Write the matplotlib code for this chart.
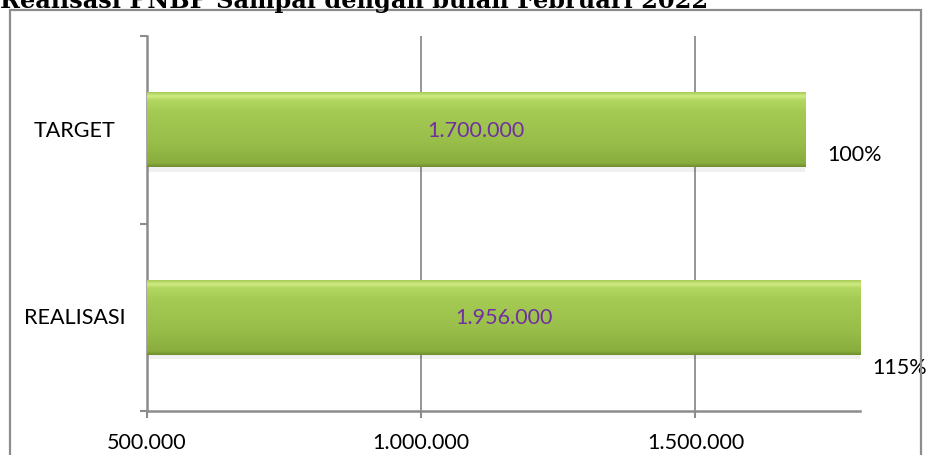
import matplotlib

matplotlib.use('Agg')

import numpy as np
import matplotlib.pyplot as plt
import matplotlib.ticker as mticker
from matplotlib.colors import to_rgb
from matplotlib.patches import Rectangle

title = 'Realisasi PNBP Sampai dengan bulan Februari 2022'
categories = ['REALISASI', 'TARGET']
values = [1956000, 1700000]
percents = ['115%', '100%']
x_ticks = [500000, 1000000, 1500000]
x_min, x_max = 500000, 1800000


def dotted(v, pos=None):
    return f'{int(v):,}'.replace(',', '.')


plt.rcParams['font.family'] = ['Lato', 'DejaVu Sans']

fig = plt.figure(figsize=(9.3, 4.56), dpi=100)
ax = fig.add_axes([147 / 930, 1 - 412 / 456, 713 / 930, 375 / 456])

# outer chart border
fig.patches.append(Rectangle((10 / 930, -0.05), 911 / 930, 1.05 - 11 / 456,
                             transform=fig.transFigure, fill=False,
                             edgecolor='#8c8c8c', lw=1.6))

fig.text(0.0, 1 - 8 / 456, title, family='DejaVu Serif', weight='bold',
         fontsize=17.3, va='baseline', ha='left')

y = np.arange(len(categories))
bar_h = 0.4

# soft shadow under bars
for yi, v in zip(y, values):
    ax.barh(yi - 0.025, v, height=bar_h, color='#000000', alpha=0.06, zorder=2)

bars = ax.barh(y, values, height=bar_h, color='#9fc54e', zorder=3)

# vertical gradient (bottom -> top) to imitate the bevelled Excel bar
stops = [(0.0, '#708f30'), (0.05, '#8aad3e'), (0.35, '#99bf4a'),
         (0.75, '#a5cb55'), (0.9, '#b3d862'), (0.95, '#cfec84'), (1.0, '#a8cc55')]
pos = np.linspace(0, 1, 120)
grad = np.zeros((120, 1, 3))
for c in range(3):
    grad[:, 0, c] = np.interp(pos, [s[0] for s in stops],
                              [to_rgb(s[1])[c] for s in stops])
for b in bars:
    x0, y0 = b.get_x(), b.get_y()
    left = max(x0, x_min)
    right = min(x0 + b.get_width(), x_max)
    ax.imshow(grad, extent=[left, right, y0, y0 + b.get_height()],
              aspect='auto', origin='lower', zorder=4, interpolation='bilinear')

for yi, v in zip(y, values):
    cx = (max(x_min, 0) + min(v, x_max)) / 2
    ax.text(cx, yi, dotted(v), ha='center', va='center', color='#7030a0',
            fontsize=15.5, zorder=6)

# percentage labels floating to the right
ax.text(0.993, 0.685, percents[1], transform=ax.transAxes, ha='center',
        va='center', fontsize=15.5, clip_on=False)
ax.text(1.056, 0.117, percents[0], transform=ax.transAxes, ha='center',
        va='center', fontsize=15.5, clip_on=False)

ax.set_xlim(x_min, x_max)
ax.set_ylim(-0.5, len(categories) - 0.5)
ax.set_xticks(x_ticks)
ax.xaxis.set_major_formatter(mticker.FuncFormatter(dotted))
ax.set_yticks([-0.5, 0.5, 1.5])
ax.set_yticklabels([])
for yi, cat in zip(y, categories):
    ax.text(-0.101, yi, cat, transform=ax.get_yaxis_transform(), ha='center',
            va='center', fontsize=15.5)

ax.grid(axis='x', color='#8c8c8c', lw=1.3, zorder=0)
ax.set_axisbelow(True)
for side in ['top', 'right']:
    ax.spines[side].set_visible(False)
for side in ['left', 'bottom']:
    ax.spines[side].set_color('#8c8c8c')
    ax.spines[side].set_linewidth(1.8)
ax.tick_params(axis='x', length=5, width=1.5, color='#8c8c8c', labelsize=15.5, pad=10)
ax.tick_params(axis='y', length=5, width=1.5, color='#8c8c8c')

fig.savefig('out.png', dpi=100)
